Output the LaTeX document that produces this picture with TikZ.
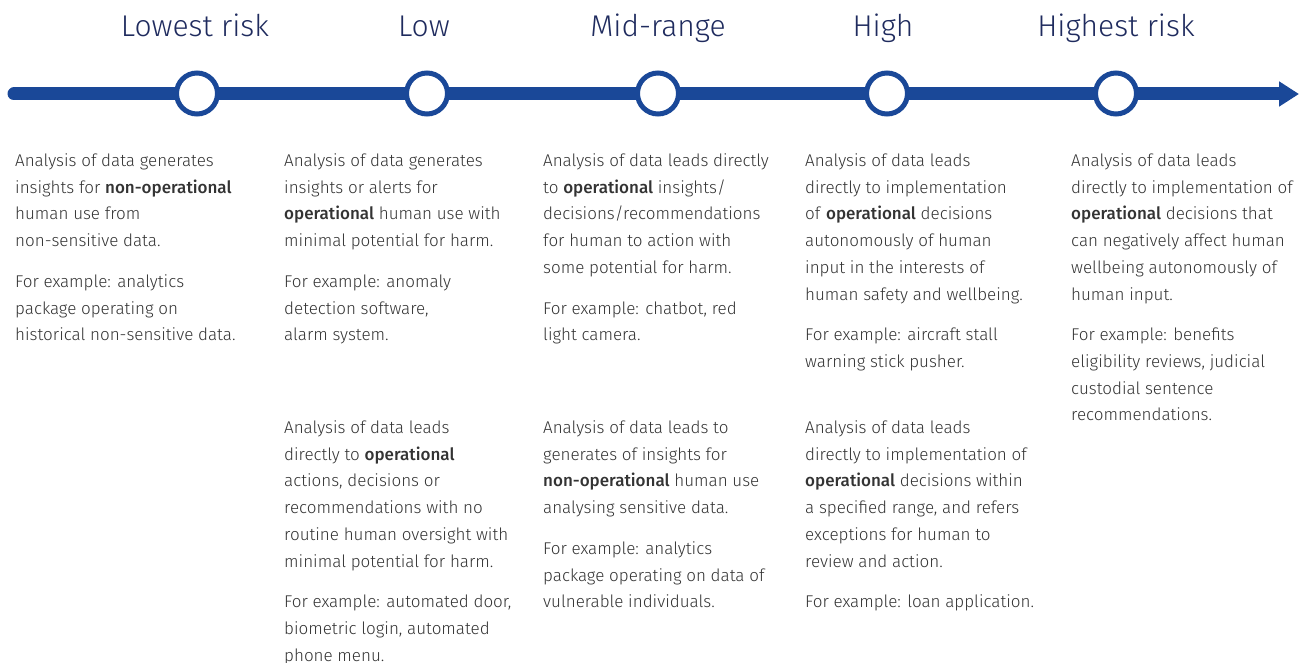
\documentclass[tikz,border=0pt]{standalone}
\usepackage{fontspec}
\setmainfont{Fira Sans}[UprightFont=* Light, BoldFont=* Medium]
\newfontfamily\headfont{Fira Sans Light}
\usetikzlibrary{arrows.meta}
\definecolor{lineblue}{HTML}{1A4898}
\definecolor{headnavy}{HTML}{1F2B5E}
\definecolor{bodygray}{HTML}{333333}
\tikzset{
  heading/.style={anchor=base, inner sep=0pt, text=headnavy,
    font=\headfont\fontsize{30}{36}\selectfont},
  stage/.style={circle, draw=lineblue, line width=5pt, fill=white,
    minimum size=41pt, inner sep=0pt},
  body/.style={anchor=north west, inner sep=0pt, align=left, text=bodygray,
    font=\fontsize{17}{26.7}\selectfont},
  axis/.style={draw=lineblue, line width=13pt, line cap=round,
    -{Triangle[length=20pt,width=24pt]}}
}
\begin{document}
\begin{tikzpicture}[x=1pt,y=-1pt]
\useasboundingbox (0,0) rectangle (1301,663);

% risk axis
\coordinate (axstart) at (14,94);
\coordinate (axend) at (1299,94);
\draw[axis] (axstart) -- (axend);

% stage markers
\node[stage] (c1) at (197,93.5) {};
\node[stage] (c2) at (427,93.5) {};
\node[stage] (c3) at (658,93.5) {};
\node[stage] (c4) at (887,93.5) {};
\node[stage] (c5) at (1116,93.5) {};

% stage headings
\node[heading] (h1) at (195,37) {Lowest risk};
\node[heading] (h2) at (424,37) {Low};
\node[heading] (h3) at (658,37) {Mid-range};
\node[heading] (h4) at (883,37) {High};
\node[heading] (h5) at (1116,37) {Highest risk};

% descriptions
\node[body] (t1) at (15,153.5) {Analysis of data generates\\
insights for \textbf{non-operational}\\
human use from\\
non-sensitive data.\\[14pt]
For example: analytics\\
package operating on\\
historical non-sensitive data.};

\node[body] (t2a) at (284,153.5) {Analysis of data generates\\
insights or alerts for\\
\textbf{operational} human use with\\
minimal potential for harm.\\[14pt]
For example: anomaly\\
detection software,\\
alarm system.};

\node[body] (t2b) at (284,420.5) {Analysis of data leads\\
directly to \textbf{operational}\\
actions, decisions or\\
recommendations with no\\
routine human oversight with\\
minimal potential for harm.\\[14pt]
For example: automated door,\\
biometric login, automated\\
phone menu.};

\node[body] (t3a) at (543,153.5) {Analysis of data leads directly\\
to \textbf{operational} insights/\\
decisions/recommendations\\
for human to action with\\
some potential for harm.\\[14pt]
For example: chatbot, red\\
light camera.};

\node[body] (t3b) at (543,420.5) {Analysis of data leads to\\
generates of insights for\\
\textbf{non-operational} human use\\
analysing sensitive data.\\[14pt]
For example: analytics\\
package operating on data of\\
vulnerable individuals.};

\node[body] (t4a) at (805,153.5) {Analysis of data leads\\
directly to implementation\\
of \textbf{operational} decisions\\
autonomously of human\\
input in the interests of\\
human safety and wellbeing.\\[14pt]
For example: aircraft stall\\
warning stick pusher.};

\node[body] (t4b) at (805,420.5) {Analysis of data leads\\
directly to implementation of\\
\textbf{operational} decisions within\\
a specified range, and refers\\
exceptions for human to\\
review and action.\\[14pt]
For example: loan application.};

\node[body] (t5) at (1071,153.5) {Analysis of data leads\\
directly to implementation of\\
\textbf{operational} decisions that\\
can negatively affect human\\
wellbeing autonomously of\\
human input.\\[14pt]
For example: benefits\\
eligibility reviews, judicial\\
custodial sentence\\
recommendations.};
\end{tikzpicture}
\end{document}
